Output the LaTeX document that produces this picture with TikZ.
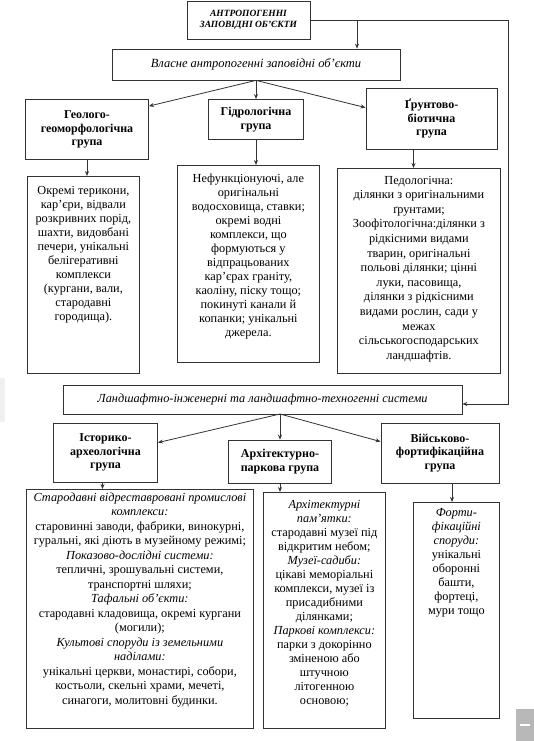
\documentclass[tikz,border=0pt]{standalone}
\usepackage{fontspec}
\setmainfont{Liberation Serif}
\usetikzlibrary{arrows.meta}

% text box of fixed size, text at the top
\newcommand{\toptext}[4][4pt]{\parbox[c][#3][t]{#2}{\centering\vspace*{#1}#4}}

\begin{document}
\begin{tikzpicture}[x=1pt,y=-1pt,>={Stealth[length=5pt,width=4pt]},
    line/.style={draw=black!80,line width=0.8pt},
    grp/.style={line,rectangle,inner sep=0pt,align=center,font=\fontsize{12}{13.6}\selectfont\bfseries},
    sys/.style={line,rectangle,inner sep=0pt,align=center,font=\fontsize{12.3}{14}\selectfont\itshape},
    info/.style={line,rectangle,inner sep=0pt,anchor=north west,font=\fontsize{12.3}{14}\selectfont}]

    \useasboundingbox (0,0) rectangle (534,741);

    % top level
    \node[grp,minimum width=123pt,minimum height=38pt,font=\fontsize{9.5}{11.5}\selectfont\bfseries\itshape] (top) at (248.5,20) {АНТРОПОГЕННІ\\ЗАПОВІДНІ ОБ’ЄКТИ};
    \node[sys,minimum width=288pt,minimum height=31pt,font=\fontsize{12.5}{14}\selectfont\itshape] (own) at (256,64.5) {Власне антропогенні заповідні об’єкти};

    % first branch
    \node[grp,minimum width=123pt,minimum height=60pt] (geo) at (87,129.5) {Геолого-\\геоморфологічна\\група};
    \node[grp,minimum width=95pt,minimum height=40pt] (hyd) at (256,119.5) {Гідрологічна\\група};
    \node[grp,minimum width=131pt,minimum height=61pt] (grn) at (431.5,118.5) {Ґрунтово-\\біотична\\група};

    \node[info] (geoinfo) at (27,176) {\toptext[9.5pt]{112pt}{197pt}{Окремі терикони,\\кар’єри, відвали\\розкривних порід,\\шахти, видовбані\\печери, унікальні\\белігеративні\\комплекси\\(кургани, вали,\\стародавні\\городища).}};
    \node[info] (hydinfo) at (177,165) {\toptext[8.5pt]{142pt}{197pt}{Нефункціонуючі, але\\оригінальні\\водосховища, ставки;\\окремі водні\\комплекси, що\\формуються у\\відпрацьованих\\кар’єрах граніту,\\каоліну, піску тощо;\\покинуті канали й\\копанки; унікальні\\джерела.}};
    \node[info,font=\fontsize{12.3}{14.6}\selectfont] (grninfo) at (337,168) {\toptext[7.5pt]{163pt}{205pt}{Педологічна:\\ділянки з оригінальними\\ґрунтами;\\Зоофітологічна:ділянки з\\рідкісними видами\\тварин, оригінальні\\польові ділянки; цінні\\луки, пасовища,\\ділянки з рідкісними\\видами рослин, сади у\\межах\\сільськогосподарських\\ландшафтів.}};

    % second branch
    \node[sys,minimum width=399pt,minimum height=29pt] (land) at (262.5,399.5) {Ландшафтно-інженерні та ландшафтно-техногенні системи};

    \node[grp,minimum width=104pt,minimum height=59pt] (ist) at (105.5,452.5) {Історико-\\археологічна\\група};
    \node[grp,minimum width=103pt,minimum height=43pt] (arc) at (280,461.5) {Архітектурно-\\паркова група};
    \node[grp,minimum width=118pt,minimum height=60pt] (vsk) at (440,453) {Військово-\\фортифікаційна\\група};

    \node[info,font=\fontsize{12.3}{14.5}\selectfont] (istinfo) at (26,489) {\toptext[3.5pt]{227pt}{239pt}{\textit{Стародавні відреставровані промислові}\\\textit{комплекси:}\\старовинні заводи, фабрики, винокурні,\\гуральні, які діють в музейному режимі;\\\textit{Показово-дослідні системи:}\\тепличні, зрошувальні системи,\\транспортні шляхи;\\\textit{Тафальні об’єкти:}\\стародавні кладовища, окремі кургани\\(могили);\\\textit{Культові споруди із земельними}\\\textit{наділами:}\\унікальні церкви, монастирі, собори,\\костьоли, скельні храми, мечеті,\\синагоги, молитовні будинки.}};
    \node[info] (arcinfo) at (263,492) {\toptext[7.5pt]{122pt}{236pt}{\textit{Архітектурні}\\\textit{пам’ятки:}\\стародавні музеї під\\відкритим небом;\\\textit{Музеї-садиби:}\\цікаві меморіальні\\комплекси, музеї із\\присадибними\\ділянками;\\\textit{Паркові комплекси:}\\парки з докорінно\\зміненою або\\штучною\\літогенною\\основою;}};
    \node[info] (vskinfo) at (413,502) {\toptext[6.5pt]{86pt}{216pt}{\textit{Форти-}\\\textit{фікаційні}\\\textit{споруди:}\\унікальні\\оборонні\\башти,\\фортеці,\\мури тощо}};

    % connectors
    \coordinate (fork) at (357,20);
    \coordinate (rtop) at (508,20);
    \coordinate (rbot) at (508,404);
    \draw[line,->] (top.east) -- (rtop) -- (rbot) -- (land.east |- rbot);
    \draw[line,->] (fork) -- (fork |- own.north);

    \draw[line,->] (own.south) -- ([yshift=-7pt]geo.north east);
    \draw[line,->] (own.south) -- (hyd.north);
    \draw[line,->] (own.south) -- ([yshift=-20pt]grn.north west);

    \draw[line,->] (geo.south) -- (geo.south |- geoinfo.north);
    \draw[line,->] (hyd.south) -- (hyd.south |- hydinfo.north);
    \draw[line,->] ([xshift=-18pt]grn.south) -- ([xshift=-18pt]grn.south |- grninfo.north);

    \coordinate (lfoot) at (280,414);
    \draw[line,->] (lfoot) -- ([yshift=-20pt]ist.north east);
    \draw[line,->] (lfoot) -- (arc.north);
    \draw[line,->] (lfoot) -- ([yshift=-19pt]vsk.north west);

    \draw[line,->] ([xshift=-3pt]ist.south) -- ([xshift=-3pt]ist.south |- istinfo.north);
    \draw[line,->] (arc.south) -- (arc.south |- arcinfo.north);
    \draw[line,->] ([xshift=12pt]vsk.south) -- ([xshift=12pt]vsk.south |- vskinfo.north);

    % screen marks
    \fill[black!6] (0,378) rectangle (5,422);
    \fill[black!28] (516,709) rectangle (534,741);
    \draw[white,line width=1.5pt] (520,725) -- (530,725);
\end{tikzpicture}
\end{document}
